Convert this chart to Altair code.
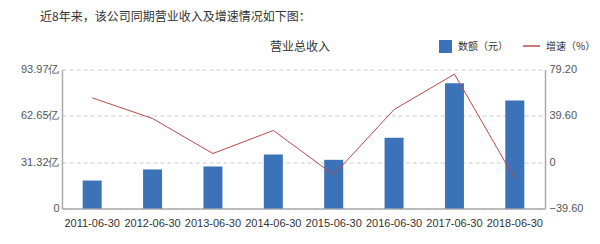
import altair as alt
import pandas as pd

years = ["2011-06-30", "2012-06-30", "2013-06-30", "2014-06-30",
         "2015-06-30", "2016-06-30", "2017-06-30", "2018-06-30"]
revenue = [18.9, 26.4, 28.4, 36.5, 32.9, 47.8, 84.7, 73.0]   # 亿元
growth = [55.0, 37.3, 7.4, 27.1, -10.8, 45.0, 75.2, -14.2]   # %

df = pd.DataFrame({"date": years, "revenue": revenue, "growth": growth})

FONT = "Liberation Sans"
CJK = "Noto Sans CJK SC"
LMAX = 93.97
left_ticks = [0, LMAX / 3, 2 * LMAX / 3, LMAX]
right_ticks = [-39.6, 0, 39.6, 79.2]

x = alt.X("date:N", sort=years, title=None,
          axis=alt.Axis(labelAngle=0, ticks=False, labelPadding=9, labelFontSize=11,
                        labelFont=FONT, labelColor="#333", domainColor="#aaa",
                        domainWidth=1.5, grid=False))

bars = alt.Chart(df).mark_bar(color="#3b72b8", size=19).encode(
    x=x,
    y=alt.Y("revenue:Q", title=None,
            scale=alt.Scale(domain=[0, LMAX], nice=False, zero=True),
            axis=alt.Axis(orient="left", values=left_ticks, ticks=False, labelPadding=3,
                          labelExpr="datum.value == 0 ? '0' : format(datum.value, '.2f') + '亿'",
                          labelFont=FONT, labelFontSize=11, labelColor="#555",
                          domainColor="#aaa", domainWidth=1.5,
                          grid=True, gridDash=[4, 3], gridColor="#ccc"))
)

line = alt.Chart(df).mark_line(color="#b94a48", strokeWidth=1).encode(
    x=x,
    y=alt.Y("growth:Q", title=None,
            scale=alt.Scale(domain=[-39.6, 79.2], nice=False, zero=False),
            axis=alt.Axis(orient="right", values=right_ticks, ticks=False, labelPadding=4,
                          labelExpr="datum.value == 0 ? '0' : format(datum.value, '.2f')",
                          labelFont=FONT, labelFontSize=11, labelColor="#555",
                          domainColor="#aaa", domainWidth=1.5, grid=False))
)

one = alt.Data(values=[{"a": 1}])

header = alt.Chart(one).mark_text(
    text="近8年来，该公司同期营业收入及增速情况如下图：", font=CJK, fontSize=12,
    align="left", baseline="middle", color="#333"
).encode(x=alt.value(-22), y=alt.value(-53))

ctitle = alt.Chart(one).mark_text(
    text="营业总收入", font=CJK, fontSize=12, align="center", baseline="middle", color="#333"
).encode(x=alt.value(238), y=alt.value(-22.5))

leg_sq = alt.Chart(one).mark_rect(color="#3b72b8").encode(
    x=alt.value(377), x2=alt.value(390), y=alt.value(-29.5), y2=alt.value(-16.5))
leg_t1 = alt.Chart(one).mark_text(
    text="数额（元）", font=CJK, fontSize=10, align="left", baseline="middle", color="#333"
).encode(x=alt.value(396), y=alt.value(-23))
leg_ln = alt.Chart(one).mark_rule(color="#b94a48", strokeWidth=1.5).encode(
    x=alt.value(461), x2=alt.value(478), y=alt.value(-23.5))
leg_t2 = alt.Chart(one).mark_text(
    text="增速（%）", font=CJK, fontSize=10, align="left", baseline="middle", color="#333"
).encode(x=alt.value(484), y=alt.value(-23))

chart = alt.layer(bars, line, header, ctitle, leg_sq, leg_t1, leg_ln, leg_t2).resolve_scale(
    y="independent"
).properties(
    width=483, height=139,
    autosize=alt.AutoSizeParams(type="none"),
    padding={"left": 62, "top": 69.5, "right": 55, "bottom": 35.5},
    background="white"
).configure_view(stroke=None).configure_scale(bandPaddingInner=0.3, bandPaddingOuter=0.15)

chart.save("out.html", embed_options={"renderer": "svg", "actions": False})
